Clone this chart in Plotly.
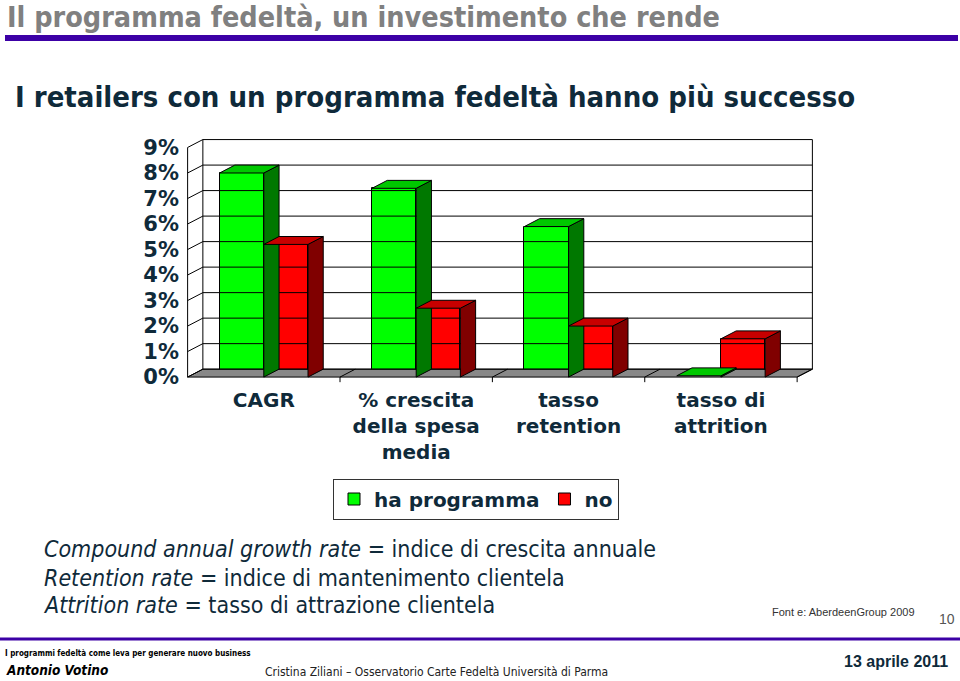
import plotly.graph_objects as go

GROUPS = [
    "CAGR",
    "% crescita<br>della spesa<br>media",
    "tasso<br>retention",
    "tasso di<br>attrition",
]

HA_PROGRAMMA = [8.0, 7.4, 5.9, 0.05]
NO_PROGRAMMA = [5.2, 2.7, 2.0, 1.5]

Y_TICKS = [0, 1, 2, 3, 4, 5, 6, 7, 8, 9]
Y_TICK_LABELS = ["0%", "1%", "2%", "3%", "4%", "5%", "6%", "7%", "8%", "9%"]

W, H = 960, 681
L, R, T, B = 180, 140, 136, 295
PW, PH = W - L - R, H - T - B

# fake 3d depth, in axis units
DX = 0.1
DY = 0.31
BAR_W = 0.29

DARK = "#0f2a3a"
FONT = "DejaVu Sans, sans-serif"
COND = "DejaVu Sans Condensed, sans-serif"


def px(x):
    return (x - L) / PW


def py(y):
    return (H - B - y) / PH


def box_faces(x0, x1, v):
    top_x = [x0, x1, x1 + DX, x0 + DX, x0, None]
    top_y = [v, v, v + DY, v + DY, v, None]
    side_x = [x1, x1 + DX, x1 + DX, x1, x1, None]
    side_y = [0, DY, v + DY, v, 0, None]
    return top_x, top_y, side_x, side_y


centers = [i + 0.5 for i in range(len(GROUPS))]

fig = go.Figure()

# floor
fig.add_scatter(
    x=[0, 4, 4 + DX, DX, 0],
    y=[0, 0, DY, DY, 0],
    fill="toself",
    fillcolor="#888888",
    line=dict(color="black", width=1),
    mode="lines",
    showlegend=False,
    hoverinfo="skip",
)

# back wall grid and left wall
gx, gy = [], []
for v in Y_TICKS:
    gx += [DX, 4 + DX, None, 0, DX, None]
    gy += [v + DY, v + DY, None, v, v + DY, None]
gx += [DX, DX, None, 4 + DX, 4 + DX, None, 0, 0, None]
gy += [DY, 9 + DY, None, DY, 9 + DY, None, 0, 9, None]
for i in range(1, 5):
    gx += [i, i, None, i, i + DX, None]
    gy += [0, -0.2, None, 0, DY, None]
fig.add_scatter(
    x=gx,
    y=gy,
    mode="lines",
    line=dict(color="black", width=1),
    showlegend=False,
    hoverinfo="skip",
)

series = [
    ("ha programma", HA_PROGRAMMA, -BAR_W / 2, "#00ff00", "#00c800", "#007800"),
    ("no", NO_PROGRAMMA, BAR_W / 2, "#ff0000", "#c80000", "#800000"),
]

for name, values, shift, front, top, side in series:
    tx, ty, sx, sy = [], [], [], []
    for c, v in zip(centers, values):
        x0 = c + shift - BAR_W / 2
        x1 = c + shift + BAR_W / 2
        a, b, d, e = box_faces(x0, x1, v)
        tx += a
        ty += b
        sx += d
        sy += e

    fig.add_bar(
        x=[c + shift for c in centers],
        y=values,
        width=BAR_W,
        name=name,
        marker=dict(color=front, line=dict(color="black", width=1)),
    )
    fig.add_scatter(
        x=sx, y=sy, fill="toself", fillcolor=side, mode="lines",
        line=dict(color="black", width=1), showlegend=False, hoverinfo="skip",
    )
    fig.add_scatter(
        x=tx, y=ty, fill="toself", fillcolor=top, mode="lines",
        line=dict(color="black", width=1), showlegend=False, hoverinfo="skip",
    )

fig.update_layout(
    width=W,
    height=H,
    margin=dict(l=L, r=R, t=T, b=B),
    paper_bgcolor="white",
    plot_bgcolor="white",
    barmode="overlay",
    bargap=0,
    font=dict(family=FONT, color=DARK, size=20),
    legend=dict(
        orientation="h",
        x=px(476),
        xanchor="center",
        y=py(499),
        yanchor="middle",
        bordercolor="#333333",
        borderwidth=1,
        bgcolor="white",
        font=dict(size=20, family=FONT, color=DARK, weight="bold"),
        itemwidth=30,
        traceorder="normal",
    ),
    xaxis=dict(
        range=[-0.05, 4.15],
        tickvals=centers,
        ticktext=GROUPS,
        showgrid=False,
        zeroline=False,
        showline=False,
        ticks="",
        tickfont=dict(size=20, weight="bold"),
    ),
    yaxis=dict(
        range=[-0.35, 9.45],
        tickvals=Y_TICKS,
        ticktext=Y_TICK_LABELS,
        showgrid=False,
        zeroline=False,
        showline=False,
        ticks="",
        tickfont=dict(size=21, weight="bold"),
    ),
)

fig.add_shape(
    type="line", xref="paper", yref="paper",
    x0=px(5), x1=px(958), y0=py(38), y1=py(38),
    line=dict(color="#3c00a6", width=6),
)
fig.add_shape(
    type="line", xref="paper", yref="paper",
    x0=px(0), x1=px(960), y0=py(639), y1=py(639),
    line=dict(color="#3c00a6", width=3),
)

texts = [
    (5, 17, "<b>Il programma fedeltà, un investimento che rende</b>", 28.5,
     "#808080", COND, "left"),
    (13, 97, "<b>I retailers con un programma fedeltà hanno più successo</b>", 29,
     DARK, COND, "left"),
    (42, 549, "<i>Compound annual growth rate</i> = indice di crescita annuale", 23,
     DARK, COND, "left"),
    (42, 578, "<i>Retention rate</i> = indice di mantenimento clientela", 23,
     DARK, COND, "left"),
    (41, 605, "<i>Attrition rate</i> = tasso di attrazione clientela", 23,
     DARK, COND, "left"),
    (770, 612, "Font e: AberdeenGroup 2009", 11,
     "#333333", "Liberation Sans, sans-serif", "left"),
    (957, 619, "10", 14, "#555555", "Liberation Sans, sans-serif", "right"),
    (3, 653, "<b>I programmi fedeltà come leva per generare nuovo business</b>", 8,
     "black", COND, "left"),
    (4, 670, "<b><i>Antonio Votino</i></b>", 13.5,
     "black", COND, "left"),
    (263, 672, "Cristina Ziliani – Osservatorio Carte Fedeltà Università di Parma", 12,
     "#222222", COND, "left"),
    (950, 661, "<b>13 aprile 2011</b>", 16, DARK, "Liberation Sans, sans-serif", "right"),
]

for x, y, text, size, color, family, anchor in texts:
    fig.add_annotation(
        x=px(x), y=py(y), xref="paper", yref="paper",
        text=text, showarrow=False,
        xanchor=anchor, yanchor="middle",
        font=dict(size=size, color=color, family=family),
    )

fig.write_html(
    "out.html",
    config={"displayModeBar": False},
    post_script="document.body.style.margin='0';document.body.style.overflow='hidden';",
)
